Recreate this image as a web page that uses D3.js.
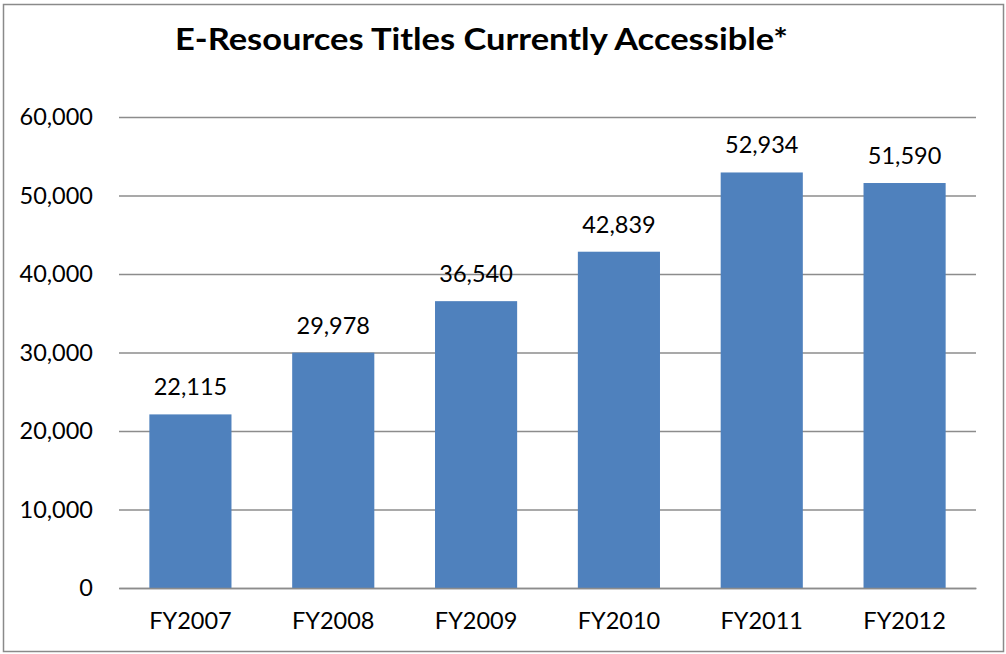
<!DOCTYPE html>
<html><head><meta charset="utf-8">
<script src="https://cdn.jsdelivr.net/npm/d3@7"></script>
<style>body{margin:0;background:#fff}svg{display:block}</style>
</head><body>
<script>
const categories = ["FY2007","FY2008","FY2009","FY2010","FY2011","FY2012"];
const values = [22115, 29978, 36540, 42839, 52934, 51590];
const yTicks = [0, 10000, 20000, 30000, 40000, 50000, 60000];
const title = "E-Resources Titles Currently Accessible*";

const W = 1006, H = 654;
const m = {left:119, right:30, top:117, bottom:66};
const svg = d3.select("body").append("svg").attr("width", W).attr("height", H);
const font = "Lato, 'Open Sans', sans-serif";

svg.append("rect").attr("x",3.5).attr("y",4.5).attr("width",1000).attr("height",647)
  .attr("fill","#fff").attr("stroke","#8a8a8a").attr("stroke-width",1.5);

const x = d3.scaleBand().domain(categories).range([m.left, W - m.right]).paddingInner(0.425).paddingOuter(0.2125);
const y = d3.scaleLinear().domain([0, 60000]).range([H - m.bottom, m.top]);

svg.append("text").attr("x", 481.5).attr("y", 50).attr("text-anchor","middle")
  .attr("font-family", font).attr("font-weight","bold").attr("font-size", 30.5)
  .attr("textLength", 613).attr("lengthAdjust","spacingAndGlyphs")
  .attr("fill","#000").text(title);

// gridlines
const yAxis = d3.axisLeft(y).tickValues(yTicks).tickSize(-(W - m.right - m.left)).tickFormat(d3.format(","));
const gy = svg.append("g").attr("transform",`translate(${m.left},0)`).call(yAxis);
gy.select(".domain").remove();
gy.selectAll(".tick line").attr("stroke","#8c8c8c").attr("stroke-width",1.5);
gy.selectAll(".tick text").attr("x",-26).attr("font-family",font).attr("font-size",23.5).attr("fill","#000");

svg.append("g").selectAll("rect").data(values).join("rect")
  .attr("x",(d,i)=>x(categories[i])).attr("width",x.bandwidth())
  .attr("y",d=>y(d)).attr("height",d=>y(0)-y(d)).attr("fill","#4F81BD");

// baseline
const xAxis = d3.axisBottom(x).tickSize(0).tickPadding(24);
const gx = svg.append("g").attr("transform",`translate(0,${y(0)})`).call(xAxis);
gx.select(".domain").attr("stroke","#8c8c8c").attr("stroke-width",1.5);
gx.selectAll(".tick text").attr("font-family",font).attr("font-size",23.5).attr("fill","#000");

svg.append("g").selectAll("text").data(values).join("text")
  .attr("x",(d,i)=>x(categories[i]) + x.bandwidth()/2).attr("y",d=>y(d)-19)
  .attr("text-anchor","middle").attr("font-family",font).attr("font-size",23.5).attr("fill","#000")
  .text(d3.format(","));
</script>
</body></html>
